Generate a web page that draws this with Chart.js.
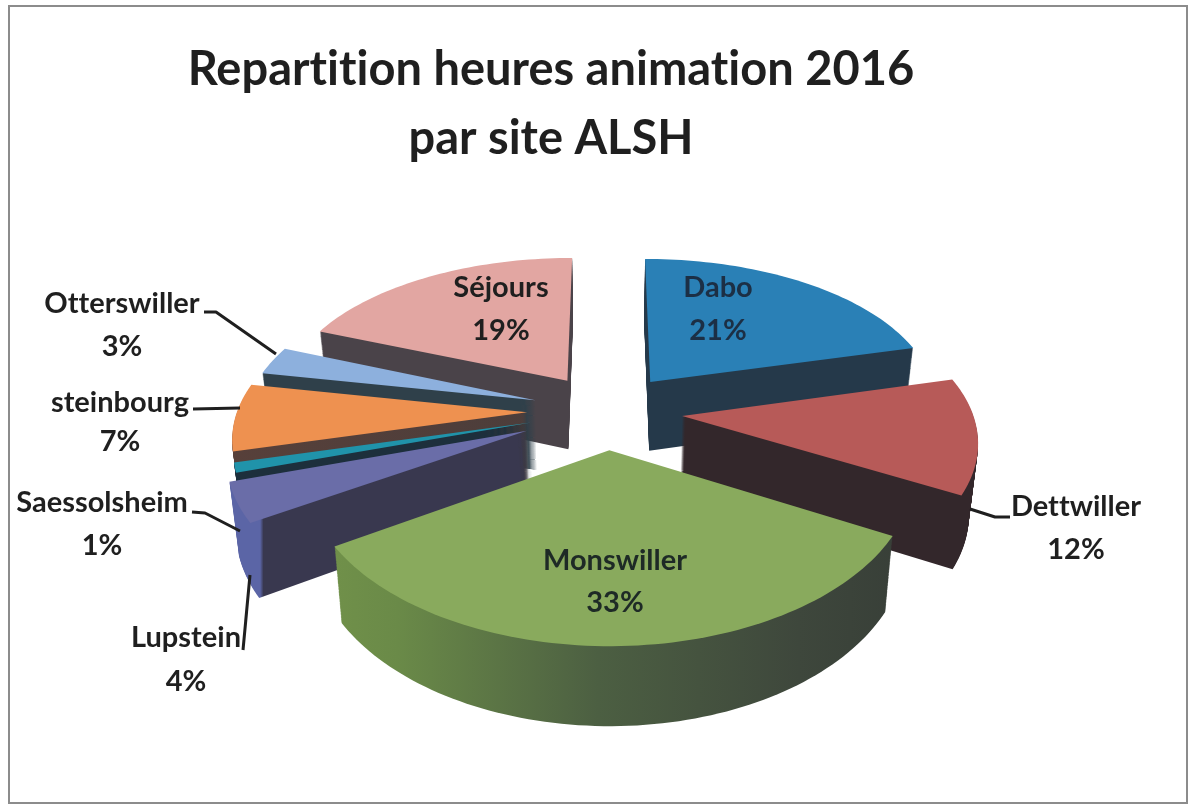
<!DOCTYPE html>
<html><head><meta charset="utf-8">
<style>html,body{margin:0;padding:0;background:#fff}canvas{display:block}</style>
<script src="https://cdn.jsdelivr.net/npm/chart.js@4"></script>
</head><body><canvas id="c" width="1194" height="807"></canvas>
<script>
const titleLines = ['Repartition heures animation 2016', 'par site ALSH'];
const categories = ['Dabo', 'Dettwiller', 'Monswiller', 'Lupstein', 'Saessolsheim', 'steinbourg', 'Otterswiller', 'Séjours'];
const percentages = [21, 12, 33, 4, 1, 7, 3, 19];

// styles
const faceColors = ['#2a80b6', '#b75a58', '#89aa5d', '#6a6da8', '#2093aa', '#ee9150', '#8db0dd', '#e2a6a2'];
const wallStops = [
  [[0, '#25394a'], [1, '#25394a']],
  [[0, '#33272b'], [1, '#33272b']],
  [[0, '#7a9a4c'], [0.25, '#6a8a48'], [0.55, '#4c5f42'], [0.85, '#3e473c'], [1, '#383f38']],
  [[0, '#5b65a6'], [0.045, '#5b65a6'], [0.05, '#39384f'], [1, '#39384f']],
  [[0, '#1d2f3c'], [1, '#1d2f3c']],
  [[0, '#57403a'], [1, '#3f3a3c']],
  [[0, '#2f404a'], [1, '#2f404a']],
  [[0, '#4a4349'], [1, '#4a4349']]
];
const explode = [0.25, 0.26, 0.25, 0.3, 0.27, 0.275, 0.26, 0.25];
const view = { cx: 607, cy: 411, A: 290, B: 151, px: 0.14, py: 0.158, depth: 70, converge: 0.025 };
const labelSpots = [
  { x: 718, y: 288, y2: 331, color: '#1c2f45' },
  { x: 1076, y: 507, y2: 550, color: '#1f1f1f' },
  { x: 615, y: 561, y2: 603, color: '#1e2a26' },
  { x: 186, y: 638, y2: 682, color: '#1f1f1f' },
  { x: 102, y: 503, y2: 546, color: '#1f1f1f' },
  { x: 120, y: 403, y2: 442, color: '#1f1f1f' },
  { x: 122, y: 304, y2: 347, color: '#1f1f1f' },
  { x: 501, y: 288, y2: 331, color: '#1f1f1f' }
];
const leaders = [
  [[204, 312], [216, 312], [276, 354]],
  [[193, 409], [240, 408]],
  [[192, 512], [205, 513], [240, 531]],
  [[243, 650], [250, 575]],
  [[1010, 517], [995, 517], [970, 509]]
];

function project(u, v, t) {
  let x = view.A * u / (1 - view.px * v);
  let y = view.B * v / (1 - view.py * v);
  x *= 1 - view.converge * t;
  y += view.depth * t / (1 - 0.1 * v);
  return [view.cx + x, view.cy + y];
}

// Canvas-like wrapper: the library's ArcElement draws through it, its path gets projected.
class ProjectedContext {
  constructor(ctx, mapper, paint) { this.c = ctx; this.map = mapper; this.paint = paint; this.dx = 0; this.dy = 0; this.open = false; this.fillStyle = ''; this.strokeStyle = ''; }
  save() {} restore() {} clip() {} stroke() {} setLineDash() {}
  translate(x, y) { this.dx += x; this.dy += y; }
  beginPath() { this.c.beginPath(); this.open = false; }
  closePath() { this.c.closePath(); }
  moveTo(x, y) { const p = this.map(x + this.dx, y + this.dy); this.c.moveTo(p[0], p[1]); this.open = true; }
  lineTo(x, y) { if (!isFinite(x) || !isFinite(y)) return; const p = this.map(x + this.dx, y + this.dy); this.open ? this.c.lineTo(p[0], p[1]) : this.moveTo(x, y); }
  arc(x, y, r, a0, a1, ccw) {
    if (!(r > 0) || !isFinite(a0) || !isFinite(a1)) { this.lineTo(x, y); return; }
    const n = Math.max(2, Math.ceil(Math.abs(a1 - a0) * 40));
    for (let i = 0; i <= n; i++) { const a = a0 + (a1 - a0) * i / n; this.lineTo(x + r * Math.cos(a), y + r * Math.sin(a)); }
  }
  fill() { this.c.fillStyle = this.paint; this.c.fill(); }
}

const pie3d = {
  id: 'pie3d',
  beforeDraw(chart) {
    const c = chart.ctx; c.save(); c.fillStyle = '#fff'; c.fillRect(0, 0, 1194, 807);
    c.strokeStyle = '#8c8c8c'; c.lineWidth = 2; c.strokeRect(9, 6, 1178, 797); c.restore();
    c.letterSpacing = '0.01px';
  },
  beforeDatasetDraw(chart, args) {
    const c = chart.ctx, arcs = args.meta.data;
    const mid = a => (a.startAngle + a.endAngle) / 2;
    const order = arcs.map((a, i) => i).sort((p, q) => Math.sin(mid(arcs[p])) - Math.sin(mid(arcs[q])));
    for (const i of order) {
      const a = arcs[i], m = mid(a), e = explode[i];
      const mapAt = t => (x, y) => project((x - a.x) / a.outerRadius + e * Math.cos(m), (y - a.y) / a.outerRadius + e * Math.sin(m), t);
      const g = c.createLinearGradient(230, 0, 900, 0);
      wallStops[i].forEach(s => g.addColorStop(s[0], s[1]));
      for (let d = view.depth; d >= 1; d--) a.draw(new ProjectedContext(c, mapAt(d / view.depth), g));
      a.draw(new ProjectedContext(c, mapAt(0), faceColors[i]));
    }
    return false;
  },
  afterDatasetsDraw(chart) {
    const c = chart.ctx; c.save();
    c.strokeStyle = '#1f1f1f'; c.lineWidth = 3; c.lineJoin = 'round';
    leaders.forEach(l => { c.beginPath(); l.forEach((p, k) => k ? c.lineTo(p[0], p[1]) : c.moveTo(p[0], p[1])); c.stroke(); });
    c.font = 'bold 29px Lato'; c.textAlign = 'center'; c.textBaseline = 'middle';
    categories.forEach((name, i) => {
      const s = labelSpots[i]; c.fillStyle = s.color;
      c.fillText(name, s.x, s.y); c.fillText(percentages[i] + '%', s.x, s.y2);
    });
    c.restore();
  }
};

new Chart(document.getElementById('c'), {
  type: 'pie',
  data: { labels: categories, datasets: [{ data: percentages, backgroundColor: faceColors, borderWidth: 0 }] },
  options: {
    responsive: false, animation: false,
    layout: { padding: { right: 92, top: 0 } },
    events: [],
    plugins: {
      legend: { display: false }, tooltip: { enabled: false },
      title: { display: true, text: titleLines, color: '#1f1f1f', padding: { top: 35, bottom: 10 },
        font: { family: 'Lato', weight: 'bold', size: 47, lineHeight: 1.47 } }
    }
  },
  plugins: [pie3d]
});
</script></body></html>
